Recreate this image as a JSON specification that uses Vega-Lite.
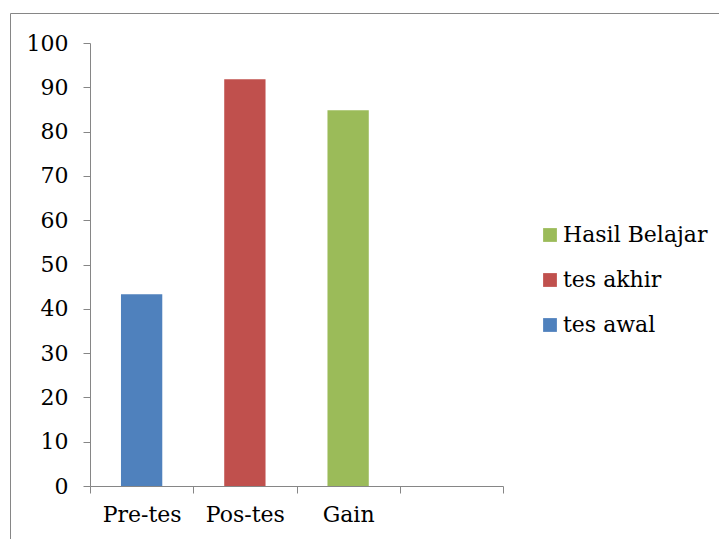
{
  "$schema": "https://vega.github.io/schema/vega-lite/v6.json",
  "autosize": "none",
  "width": 720,
  "height": 530,
  "padding": {"left": 10, "top": 13, "right": 0, "bottom": 0},
  "background": "white",
  "config": {
    "view": {"stroke": "#868686", "strokeWidth": 1},
    "font": "DejaVu Serif",
    "axis": {"grid": false}
  },
  "data": {
    "values": [
      {"kategori": "Pre-tes", "nilai": 43.3, "seri": "tes awal"},
      {"kategori": "Pos-tes", "nilai": 91.8, "seri": "tes akhir"},
      {"kategori": "Gain", "nilai": 84.8, "seri": "Hasil Belajar"}
    ]
  },
  "mark": {"type": "bar", "width": {"band": 0.4}},
  "encoding": {
    "x": {
      "field": "kategori",
      "type": "nominal",
      "sort": null,
      "scale": {"domain": ["Pre-tes", "Pos-tes", "Gain", " "], "range": [80, 493], "paddingInner": 0, "paddingOuter": 0},
      "axis": {
        "title": null,
        "labelAngle": 0,
        "labelFont": "DejaVu Serif",
        "labelFontSize": 22,
        "labelColor": "black",
        "labelPadding": 11,
        "tickBand": "extent",
        "tickSize": 7,
        "tickColor": "#868686",
        "domainColor": "#868686",
        "offset": -57
      }
    },
    "y": {
      "field": "nilai",
      "type": "quantitative",
      "scale": {"domain": [0, 100], "range": [473, 30], "nice": false},
      "axis": {
        "title": null,
        "values": [0, 10, 20, 30, 40, 50, 60, 70, 80, 90, 100],
        "labelFont": "DejaVu Serif",
        "labelFontSize": 22,
        "labelColor": "black",
        "labelPadding": 15,
        "tickSize": 7,
        "tickColor": "#868686",
        "domainColor": "#868686",
        "offset": -80
      }
    },
    "color": {
      "field": "seri",
      "type": "nominal",
      "scale": {"domain": ["Hasil Belajar", "tes akhir", "tes awal"], "range": ["#9BBB59", "#C0504D", "#4F81BD"]},
      "legend": {
        "title": null,
        "orient": "none",
        "legendX": 529,
        "legendY": 211,
        "symbolType": "square",
        "symbolSize": 190,
        "symbolStrokeWidth": 0,
        "labelFont": "DejaVu Serif",
        "labelFontSize": 22,
        "labelColor": "black",
        "rowPadding": 23,
        "labelOffset": 2
      }
    }
  }
}
